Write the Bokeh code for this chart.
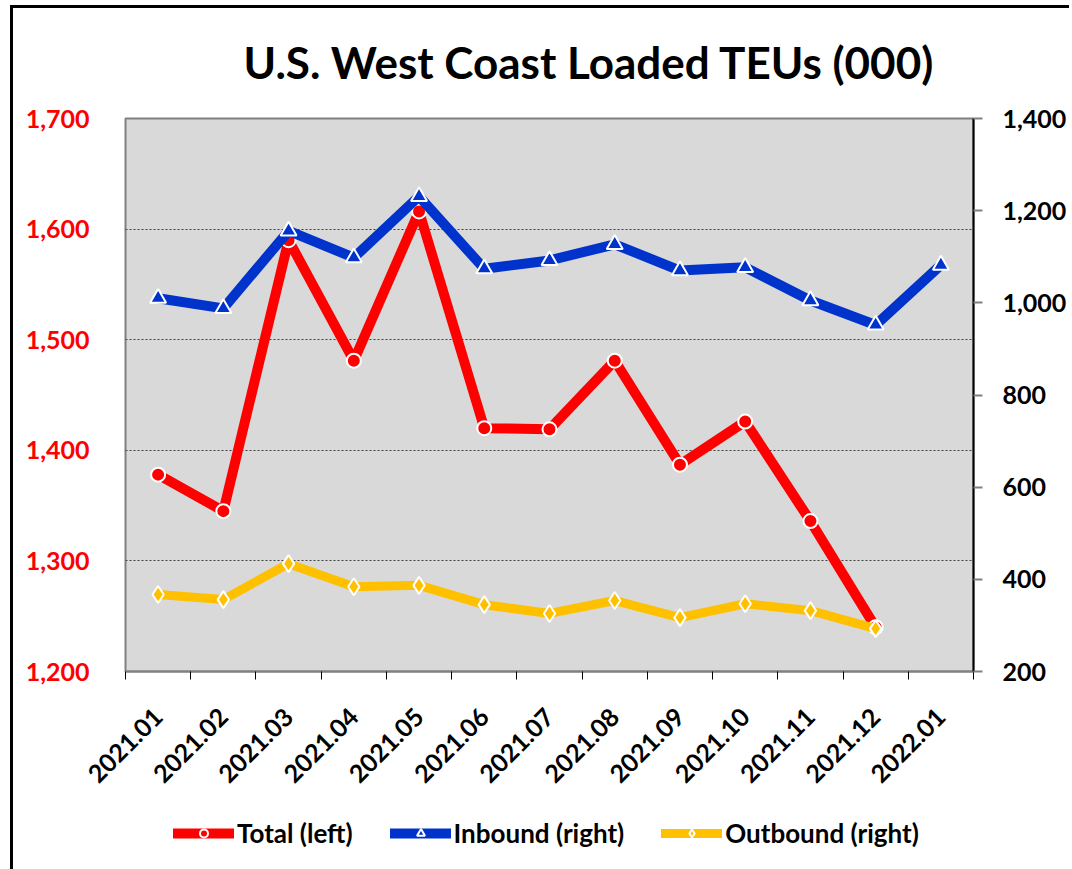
from math import pi
from bokeh.plotting import figure
from bokeh.layouts import column
from bokeh.models import (Range1d, LinearAxis, FixedTicker, NumeralTickFormatter,
                          Legend, LegendItem)
from bokeh.embed import file_html
from bokeh.resources import INLINE

months = ["2021.01", "2021.02", "2021.03", "2021.04", "2021.05", "2021.06", "2021.07",
          "2021.08", "2021.09", "2021.10", "2021.11", "2021.12", "2022.01"]
total = [1378, 1345, 1590, 1481, 1616, 1420, 1419, 1481, 1387, 1426, 1336, 1240]
inbound = [1010, 988, 1156, 1098, 1231, 1074, 1092, 1127, 1070, 1077, 1005, 952, 1082]
outbound = [367, 356, 434, 384, 387, 345, 326, 354, 317, 347, 332, 293]
left_ticks = [1200, 1300, 1400, 1500, 1600, 1700]
right_ticks = [200, 400, 600, 800, 1000, 1200, 1400]
series_labels = ["Total (left)", "Inbound (right)", "Outbound (right)"]

FONT = "Lato"
RED, BLUE, YEL = "#FF0000", "#0033CC", "#FFC000"
n = len(months)
x_all = [i + 0.5 for i in range(n)]
x_total = x_all[:len(total)]
x_out = x_all[:len(outbound)]

p = figure(frame_width=848, frame_height=553, output_backend="svg", toolbar_location=None,
           x_range=Range1d(0, n), y_range=Range1d(left_ticks[0], left_ticks[-1]),
           min_border_left=125, min_border_right=91, min_border_top=118, min_border_bottom=140,
           background_fill_color="#D9D9D9", border_fill_color=None,
           outline_line_color="#808080", outline_line_width=2)
p.extra_y_ranges = {"right": Range1d(right_ticks[0], right_ticks[-1])}
p.styles = {"box-shadow": "inset 10px 5px 0px 0px #ffffff, inset 13px 8px 0px 0px #000000",
            "background-color": "#ffffff"}

# title
p.title.text = "U.S. West Coast Loaded TEUs (000)"
p.title.text_font = FONT
p.title.text_font_style = "bold"
p.title.text_font_size = "44px"
p.title.text_color = "black"
p.title.align = "left"
p.title.offset = 118
p.title.standoff = 62

# x axis
xa = p.xaxis[0]
xa.ticker = FixedTicker(ticks=x_all, minor_ticks=list(range(n + 1)))
xa.major_label_overrides = {x: m for x, m in zip(x_all, months)}
xa.major_tick_out = 0
xa.major_tick_in = 0
xa.minor_tick_out = 8
xa.minor_tick_in = 0
xa.minor_tick_line_color = "black"
xa.minor_tick_line_width = 1
xa.axis_line_color = "#808080"
xa.axis_line_width = 2
xa.major_label_orientation = pi / 4
xa.major_label_text_font = FONT
xa.major_label_text_font_style = "bold"
xa.major_label_text_font_size = "25px"
xa.major_label_text_color = "black"
xa.major_label_standoff = 33

# left axis
ya = p.yaxis[0]
ya.ticker = FixedTicker(ticks=left_ticks)
ya.formatter = NumeralTickFormatter(format="0,0")
ya.major_tick_out = 0
ya.major_tick_in = 0
ya.minor_tick_out = 0
ya.minor_tick_in = 0
ya.axis_line_color = None
ya.major_label_text_font = FONT
ya.major_label_text_font_style = "bold"
ya.major_label_text_font_size = "25px"
ya.major_label_text_color = "#FF0000"
ya.major_label_standoff = 36

# grid
p.xgrid.visible = False
p.ygrid.ticker = FixedTicker(ticks=left_ticks[1:-1])
p.ygrid.grid_line_color = "#404040"
p.ygrid.grid_line_dash = "2 2"
p.ygrid.grid_line_width = 1

# right axis
ra = LinearAxis(y_range_name="right", ticker=FixedTicker(ticks=right_ticks),
                formatter=NumeralTickFormatter(format="0,0"))
ra.axis_line_color = "black"
ra.axis_line_width = 2
ra.major_tick_out = 9
ra.major_tick_in = 0
ra.major_tick_line_color = "#808080"
ra.major_tick_line_width = 2
ra.minor_tick_out = 0
ra.minor_tick_in = 0
ra.major_label_text_font = FONT
ra.major_label_text_font_style = "bold"
ra.major_label_text_font_size = "25px"
ra.major_label_text_color = "black"
ra.major_label_standoff = 20
p.add_layout(ra, "right")

line_kw = dict(line_join="round", line_cap="round")
p.line(x_total, total, line_color=RED, line_width=10, **line_kw)
p.scatter(x_total, total, marker="circle", size=14, fill_color=RED,
          line_color="white", line_width=2)
p.line(x_all, inbound, y_range_name="right", line_color=BLUE, line_width=10, **line_kw)
p.scatter(x_all, inbound, y_range_name="right", marker="triangle", size=16,
          fill_color=BLUE, line_color="white", line_width=2)
p.line(x_out, outbound, y_range_name="right", line_color=YEL, line_width=9, **line_kw)
p.scatter(x_out, outbound, y_range_name="right", marker="diamond", size=17,
          fill_color=YEL, line_color="white", line_width=2)

# legend strip below the chart (its renderers hold the series but lie outside its ranges)
q = figure(width=1064, height=58, output_backend="svg", toolbar_location=None,
           x_range=Range1d(0, n), y_range=Range1d(0, 1),
           min_border=0, border_fill_color=None, background_fill_alpha=0,
           outline_line_color=None)
q.axis.visible = False
q.grid.visible = False
q.styles = {"box-shadow": "inset 10px 0px 0px 0px #ffffff, inset 13px 0px 0px 0px #000000",
            "background-color": "#ffffff"}
items = []
for lab, xs, ys, col, mk, lw, ms in zip(series_labels, [x_total, x_all, x_out],
                                        [total, inbound, outbound], [RED, BLUE, YEL],
                                        ["circle", "triangle", "diamond"], [10, 10, 9],
                                        [14, 16, 17]):
    lr = q.line(xs, ys, line_color=col, line_width=lw, line_cap="round")
    sr = q.scatter(xs, ys, marker=mk, size=ms, fill_color=col, line_color="white", line_width=2)
    items.append(LegendItem(label=lab, renderers=[lr, sr]))

legend = Legend(items=items, orientation="horizontal", location=(48, 20),
                padding=0, margin=0, spacing=37, label_standoff=3,
                glyph_width=61, glyph_height=20,
                border_line_alpha=0, background_fill_alpha=0,
                label_text_font=FONT, label_text_font_style="bold",
                label_text_font_size="26px", label_text_color="black")
q.add_layout(legend, "center")

layout = column(p, q, spacing=0)
open("out.html", "w").write(file_html(layout, INLINE))
